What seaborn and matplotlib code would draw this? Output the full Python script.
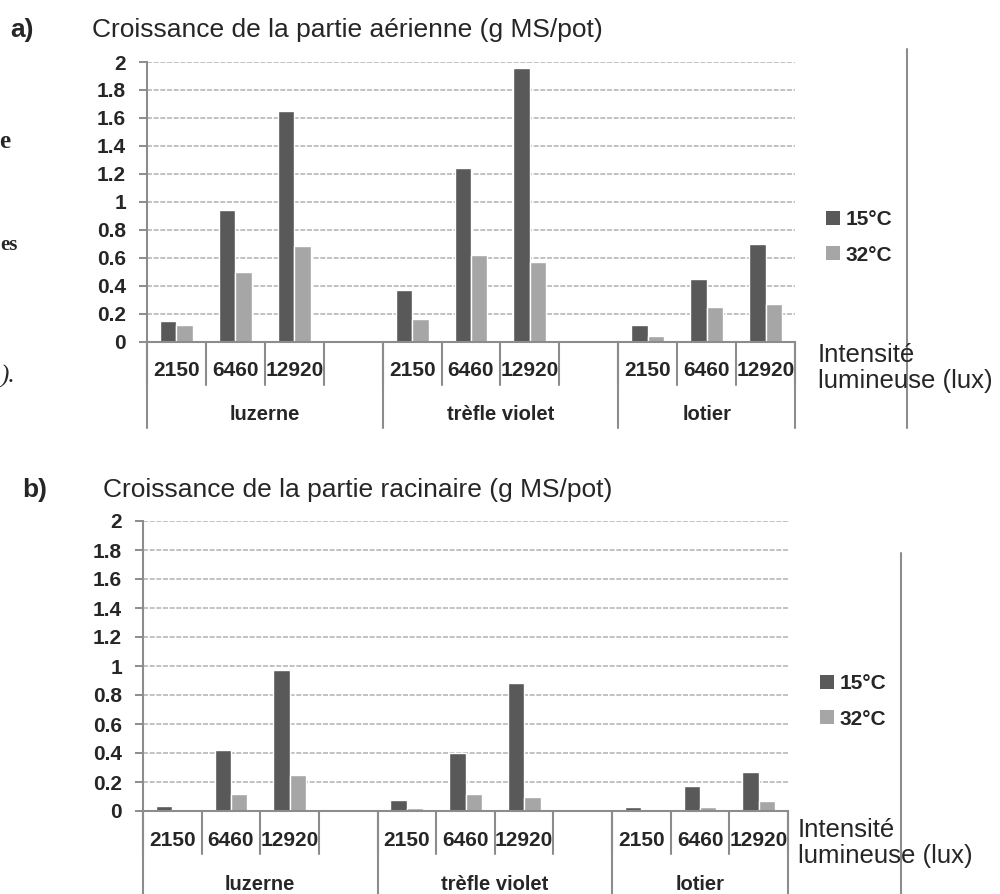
import matplotlib
matplotlib.use("Agg")
import matplotlib.pyplot as plt
from matplotlib.lines import Line2D
from matplotlib.patches import Patch
import pandas as pd
import seaborn as sns

# ---- data -------------------------------------------------------------
species = ["luzerne", "trèfle violet", "lotier"]
lux = ["2150", "6460", "12920"]
temps = ["15°C", "32°C"]

# dry matter (g MS/pot), ordered species x light intensity
aerial_15 = [0.15, 0.94, 1.65, 0.37, 1.24, 1.96, 0.12, 0.45, 0.70]
aerial_32 = [0.12, 0.50, 0.68, 0.16, 0.62, 0.57, 0.04, 0.25, 0.27]
root_15 = [0.035, 0.42, 0.97, 0.075, 0.40, 0.88, 0.03, 0.17, 0.27]
root_32 = [0.015, 0.12, 0.25, 0.02, 0.12, 0.10, 0.005, 0.03, 0.07]

y_ticks = [0, 0.2, 0.4, 0.6, 0.8, 1, 1.2, 1.4, 1.6, 1.8, 2]

# ---- style --------------------------------------------------------------
sns.set_style("white")
plt.rcParams["font.family"] = ["Liberation Sans", "DejaVu Sans"]

COLORS = ["#595959", "#a6a6a6"]
GREY = "#8c8c8c"
GRID = "#b8b8b8"
W, H = 1000, 894

fig = plt.figure(figsize=(W / 100, H / 100), dpi=100)


def px_rect(left, top, right, bottom):
    return [left / W, 1 - bottom / H, (right - left) / W, (bottom - top) / H]


# category slots, with an empty spacer slot between species
slots = []
for i, sp in enumerate(species):
    slots += [f"{sp} {lx}" for lx in lux]
    if i < len(species) - 1:
        slots.append(" " * (i + 1))


def make_frame(v15, v32):
    rows = []
    k = 0
    for sp in species:
        for lx in lux:
            rows.append({"slot": f"{sp} {lx}", "temp": temps[0], "value": v15[k]})
            rows.append({"slot": f"{sp} {lx}", "temp": temps[1], "value": v32[k]})
            k += 1
    return pd.DataFrame(rows)


def draw_panel(rect, v15, v32):
    ax = fig.add_axes(px_rect(*rect))
    h_px = rect[3] - rect[1]
    df = make_frame(v15, v32)
    sns.barplot(data=df, x="slot", y="value", hue="temp", order=slots,
                hue_order=temps, palette=COLORS, saturation=1, width=0.56,
                errorbar=None, ax=ax, legend=False)
    ax.set_xlim(-0.5, len(slots) - 0.5)
    ax.set_ylim(0, 2)
    ax.set_xlabel("")
    ax.set_ylabel("")
    ax.set_xticks([])
    ax.set_yticks(y_ticks)
    ax.set_yticklabels([f"{v:g}" for v in y_ticks], fontsize=15, fontweight="bold")
    ax.tick_params(axis="y", direction="out", length=6, width=1.4, color=GREY,
                   pad=9, left=True)
    ax.yaxis.grid(True, color=GRID, linestyle=(0, (3, 1)), linewidth=1.2)
    ax.set_axisbelow(True)
    for side in ["top", "right"]:
        ax.spines[side].set_visible(False)
    for side in ["left", "bottom"]:
        ax.spines[side].set_color(GREY)
        ax.spines[side].set_linewidth(1.5)

    trans = ax.get_xaxis_transform()
    # light-intensity labels and their short separators
    for j, s in enumerate(slots):
        if s.strip():
            ax.annotate(s.split(" ")[-1], xy=(j, 0), xycoords=trans,
                        xytext=(0, -29), textcoords="offset pixels",
                        ha="center", va="center", fontsize=15, fontweight="bold")
    for j in range(len(slots) + 1):
        ax.plot([j - 0.5] * 2, [0, -43 / h_px], transform=trans, clip_on=False,
                color=GREY, lw=1.5)
    # species labels and group separators
    bounds = [-0.5, 3.5, 7.5, len(slots) - 0.5]
    for b in bounds:
        ax.plot([b, b], [0, -86 / h_px], transform=trans, clip_on=False,
                color=GREY, lw=1.5)
    for k, sp in enumerate(species):
        ax.annotate(sp, xy=((bounds[k] + bounds[k + 1]) / 2, 0), xycoords=trans,
                    xytext=(0, -73), textcoords="offset pixels",
                    ha="center", va="center", fontsize=14.5, fontweight="bold")
    return ax


def fig_text(x, y, s, **kw):
    fig.text(x / W, 1 - y / H, s, **kw)


def legend_at(x, y):
    handles = [Patch(facecolor=c, edgecolor="none") for c in COLORS]
    fig.legend(handles, temps, loc="upper left",
               bbox_to_anchor=(x / W, 1 - y / H), bbox_transform=fig.transFigure,
               frameon=False, prop={"weight": "bold", "size": 15},
               handlelength=0.65, handleheight=0.65, handletextpad=0.3,
               labelspacing=0.8, borderpad=0, borderaxespad=0)


# ---- panel a : shoots -----------------------------------------------------
draw_panel((147, 62, 795, 341.5), aerial_15, aerial_32)
fig_text(10, 37, "a)", fontsize=19, fontweight="bold", va="baseline")
fig_text(92, 37, "Croissance de la partie aérienne (g MS/pot)", fontsize=19,
         va="baseline")
legend_at(826, 210)
fig_text(818, 368, "Intensité\nlumineuse (lux)", fontsize=18.5, va="center",
         linespacing=1.15)
fig.add_artist(Line2D([906.5 / W] * 2, [1 - 49 / H, 1 - 428 / H],
                      transform=fig.transFigure, color=GREY, lw=1.5))

# ---- panel b : roots ------------------------------------------------------
draw_panel((143, 521, 788, 811), root_15, root_32)
fig_text(22, 497, "b)", fontsize=19, fontweight="bold", va="baseline")
fig_text(103, 497, "Croissance de la partie racinaire (g MS/pot)", fontsize=19,
         va="baseline")
legend_at(820, 674)
fig_text(798, 843, "Intensité\nlumineuse (lux)", fontsize=18.5, va="center",
         linespacing=1.15)
fig.add_artist(Line2D([900.7 / W] * 2, [1 - 553 / H, 0],
                      transform=fig.transFigure, color=GREY, lw=1.5))

# ---- margin text fragments ------------------------------------------------
fig_text(10, 148, "e", family="Liberation Serif", fontweight="bold", fontsize=18,
         ha="right", va="baseline")
fig_text(0, 250, "es", family="Liberation Serif", fontweight="bold", fontsize=15,
         ha="left", va="baseline")
fig_text(15, 383, ").", family="Liberation Serif", style="italic", fontsize=18,
         ha="right", va="baseline")

fig.savefig("out.png", dpi=100)
